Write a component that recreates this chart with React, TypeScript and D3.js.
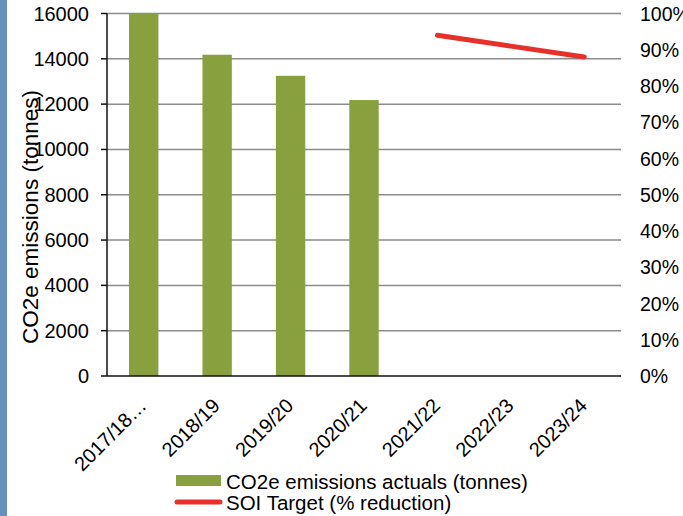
import React from "react";
import * as d3 from "d3";

const categories = ["2017/18…", "2018/19", "2019/20", "2020/21", "2021/22", "2022/23", "2023/24"];
const emissions: (number | null)[] = [16000, 14180, 13250, 12180, null, null, null];
const targetPct: (number | null)[] = [null, null, null, null, 94, 91, 88];
const leftTicks = [0, 2000, 4000, 6000, 8000, 10000, 12000, 14000, 16000];
const rightTicks = [0, 10, 20, 30, 40, 50, 60, 70, 80, 90, 100];
const seriesNames = ["CO2e emissions actuals (tonnes)", "SOI Target (% reduction)"];

const W = 683, H = 516;
const L = 107, R = 621, T = 13.5, B = 376;
const FONT = "'Liberation Sans', Arial, sans-serif";
const GREEN = "#88a03d";
const RED = "#e8302a";

export default function App() {
  const x = d3.scaleBand<string>().domain(categories).range([L, R]).paddingInner(0.6).paddingOuter(0.3);
  const y = d3.scaleLinear().domain([0, 16000]).range([B, T]);
  const y2 = d3.scaleLinear().domain([0, 100]).range([B, T]);
  const cx = (c: string) => (x(c) as number) + x.bandwidth() / 2;

  const linePts = categories
    .map((c, i) => ({ c, v: targetPct[i] }))
    .filter((d) => d.v != null) as { c: string; v: number }[];
  const line = d3.line<{ c: string; v: number }>().x((d) => cx(d.c)).y((d) => y2(d.v));

  return (
    <svg width={W} height={H} style={{ position: "fixed", left: 0, top: 0, background: "#fff" }} fontFamily={FONT}>
      <rect x={0} y={0} width={W} height={H} fill="#fff" />
      <rect x={0} y={0} width={7} height={H} fill="#6590bd" />
      {/* gridlines */}
      {leftTicks.filter((t) => t > 0).map((t) => (
        <line key={t} x1={L} x2={R} y1={y(t)} y2={y(t)} stroke="#8c8c8c" strokeWidth={1.5} />
      ))}
      {/* bars */}
      {categories.map((c, i) =>
        emissions[i] != null ? (
          <rect key={c} x={x(c)} y={y(emissions[i] as number)} width={x.bandwidth()} height={B - y(emissions[i] as number)} fill={GREEN} />
        ) : null
      )}
      {/* axes */}
      <line x1={L} x2={L} y1={T} y2={B} stroke="#111" strokeWidth={1.5} />
      <line x1={L} x2={R} y1={B} y2={B} stroke="#111" strokeWidth={1.5} />
      {leftTicks.map((t) => (
        <g key={t}>
          <line x1={L - 6} x2={L} y1={y(t)} y2={y(t)} stroke="#111" strokeWidth={1.5} />
          <text x={89} y={y(t)} textAnchor="end" dominantBaseline="central" fontSize={20} fill="#000">{t}</text>
        </g>
      ))}
      {rightTicks.map((t) => (
        <text key={t} x={640} y={y2(t)} textAnchor="start" dominantBaseline="central" fontSize={19.5} fill="#000">{t}%</text>
      ))}
      {/* target line */}
      <path d={line(linePts) || ""} fill="none" stroke={RED} strokeWidth={5} strokeLinecap="round" />
      {/* x labels */}
      {categories.map((c) => (
        <text key={c} transform={`translate(${cx(c) + 4},${407}) rotate(-45)`} textAnchor="end" fontSize={20} fill="#000">{c}</text>
      ))}
      {/* y title */}
      <text transform={`translate(30,${217}) rotate(-90)`} textAnchor="middle" dominantBaseline="central" fontSize={22.5} fill="#000">CO2e emissions (tonnes)</text>
      {/* legend */}
      <rect x={176} y={475} width={45} height={11} fill={GREEN} />
      <text x={226} y={481} dominantBaseline="central" fontSize={20.5} fill="#000">{seriesNames[0]}</text>
      <line x1={177} x2={220} y1={502} y2={502} stroke={RED} strokeWidth={5} strokeLinecap="round" />
      <text x={226} y={502} dominantBaseline="central" fontSize={20.5} fill="#000">{seriesNames[1]}</text>
    </svg>
  );
}
